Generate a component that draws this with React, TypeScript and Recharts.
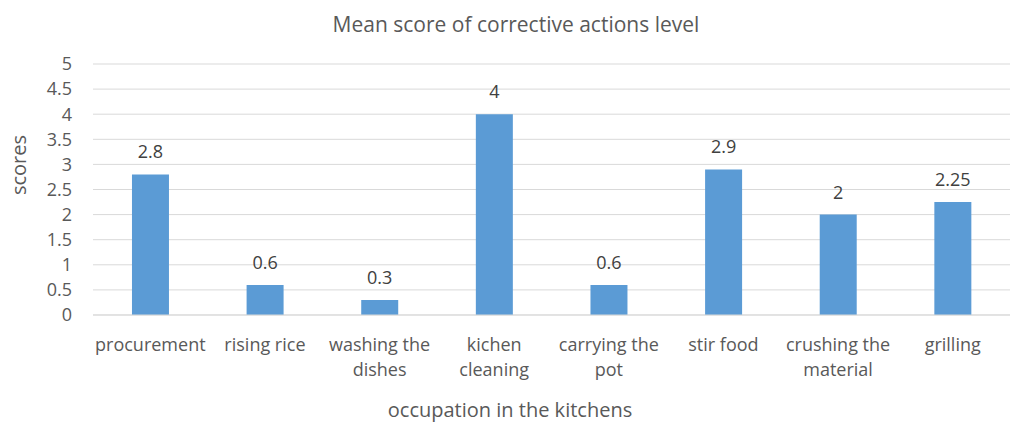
import { BarChart, Bar, XAxis, YAxis, CartesianGrid, LabelList, Customized } from "recharts";

const categories = [
  "procurement",
  "rising rice",
  "washing the dishes",
  "kichen cleaning",
  "carrying the pot",
  "stir food",
  "crushing the material",
  "grilling",
];
const tickLines = [
  ["procurement"],
  ["rising rice"],
  ["washing the", "dishes"],
  ["kichen", "cleaning"],
  ["carrying the", "pot"],
  ["stir food"],
  ["crushing the", "material"],
  ["grilling"],
];
const scores = [2.8, 0.6, 0.3, 4, 0.6, 2.9, 2, 2.25];
const yTicks = [0, 0.5, 1, 1.5, 2, 2.5, 3, 3.5, 4, 4.5, 5];

const data = categories.map((name, i) => ({ name, value: scores[i] }));

const FONT = "'Open Sans', sans-serif";
const TEXT = "#595959";

function CategoryTick(props: any) {
  const { x, y, index } = props;
  const lines = tickLines[index] || [];
  return (
    <text x={x} y={y} textAnchor="middle" fill={TEXT} fontSize={18} fontFamily={FONT}>
      {lines.map((l, i) => (
        <tspan key={i} x={x} dy={i === 0 ? "0.75em" : 25}>
          {l}
        </tspan>
      ))}
    </text>
  );
}

function Titles() {
  return (
    <g fontFamily={FONT} fill={TEXT}>
      <text x={516} y={32} textAnchor="middle" fontSize={21}>
        Mean score of corrective actions level
      </text>
      <text x={510} y={417} textAnchor="middle" fontSize={20}>
        occupation in the kitchens
      </text>
      <text x={18} y={165} textAnchor="middle" dominantBaseline="central" fontSize={20} transform="rotate(-90 18 165)">
        scores
      </text>
    </g>
  );
}

export default function App() {
  return (
    <div style={{ position: "absolute", left: 0, top: 0, background: "#fff" }}>
      <BarChart
        width={1022}
        height={425}
        data={data}
        margin={{ top: 64, right: 12, bottom: 60, left: 0 }}
        barCategoryGap="34%"
      >
        <CartesianGrid vertical={false} stroke="#d9d9d9" />
        <XAxis
          dataKey="name"
          height={50}
          axisLine={{ stroke: "#d9d9d9" }}
          tickLine={false}
          tick={<CategoryTick />}
          tickMargin={16}
          interval={0}
        />
        <YAxis
          width={93}
          domain={[0, 5]}
          ticks={yTicks}
          interval={0}
          axisLine={false}
          tickLine={false}
          tickSize={0}
          tickMargin={21}
          tick={{ fill: TEXT, fontSize: 18, fontFamily: FONT }}
        />
        <Bar dataKey="value" fill="#5b9bd5" isAnimationActive={false}>
          <LabelList
            dataKey="value"
            position="top"
            offset={16}
            fill="#404040"
            fontSize={18}
            fontFamily={FONT}
          />
        </Bar>
        <Customized component={Titles} />
      </BarChart>
    </div>
  );
}
